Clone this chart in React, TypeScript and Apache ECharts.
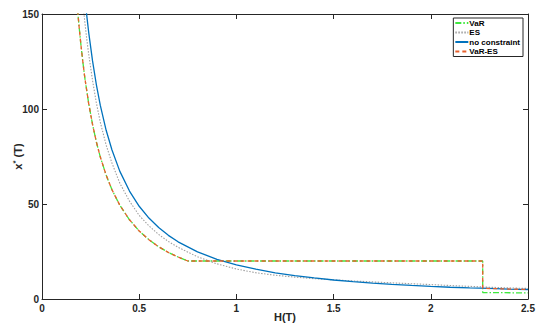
import React, { useEffect, useRef } from "react";
import * as echarts from "echarts";

// H(T) grid for the pre-threshold VaR / VaR-ES curve
const hVar = [0.16, 0.18, 0.19, 0.2, 0.21, 0.22, 0.24, 0.26, 0.28, 0.3, 0.33, 0.36, 0.4, 0.45, 0.5, 0.55, 0.6, 0.65, 0.7, 0.75, 2.267];
const yVar = [184.8, 155.8, 144.2, 134.0, 124.9, 116.6, 103.0, 91.9, 82.5, 74.7, 65.2, 57.5, 49.4, 41.7, 35.8, 31.2, 27.5, 24.5, 22.1, 20, 20];
// tails after the drop at H = 2.267
const hTail = [2.267, 2.5];
const yVarTail = [3.4, 3.2];
const yVarEsTail = [5.6, 5.0];

// H(T) grid for the smooth curves
const hCurve = [0.2, 0.21, 0.22, 0.23, 0.24, 0.26, 0.28, 0.3, 0.33, 0.36, 0.4, 0.45, 0.5, 0.55, 0.6, 0.65, 0.7, 0.8, 0.9, 1.0, 1.1, 1.2, 1.3, 1.4, 1.5, 1.6, 1.7, 1.8, 1.9, 2.0, 2.1, 2.2, 2.3, 2.4, 2.5];
const yNoConstraint = [182.7, 170.3, 159.3, 149.4, 140.5, 125.3, 112.6, 101.9, 88.8, 78.4, 67.3, 56.8, 48.8, 42.6, 37.6, 33.5, 30.1, 24.8, 20.9, 18.0, 15.7, 13.8, 12.3, 11.1, 10.0, 9.15, 8.38, 7.72, 7.14, 6.63, 6.18, 5.85, 5.55, 5.25, 5.0];
const yEs = [165, 156, 146, 137, 129, 115, 103, 93, 81, 71.5, 61, 51.5, 44, 38.5, 34, 30.3, 27.2, 22.2, 18.5, 15.8, 13.8, 12.5, 11.5, 10.7, 10.1, 9.5, 9.0, 8.5, 8.05, 7.6, 7.1, 6.65, 6.2, 5.85, 5.55];

const seriesNames = ["VaR", "ES", "no constraint", "VaR-ES"];
const xTicks = { min: 0, max: 2.5, interval: 0.5 };
const yTicks = { min: 0, max: 150, interval: 50 };

const FONT = "Liberation Sans, Arial, sans-serif";
const AX = "#262626";

function zip(xs: number[], ys: number[]) {
  return xs.map((x, i) => [x, ys[i]]);
}

export default function App() {
  const ref = useRef<HTMLDivElement>(null);
  useEffect(() => {
    if (!ref.current) return;
    const chart = echarts.init(ref.current, undefined, { renderer: "svg" });
    const varData = zip(hVar, yVar).concat(zip(hTail, yVarTail));
    const varEsData = zip(hVar, yVar).concat(zip(hTail, yVarEsTail));
    const axisCommon = {
      axisLine: { show: true, onZero: false, lineStyle: { color: AX, width: 1 } },
      axisTick: { show: true, inside: true, length: 5, lineStyle: { color: AX } },
      splitLine: { show: false },
    };
    chart.setOption({
      animation: false,
      backgroundColor: "#fff",
      grid: { left: 42, right: 13, top: 14, bottom: 31, containLabel: false, outerBoundsMode: "none" },
      legend: {
        data: seriesNames,
        orient: "vertical",
        right: 18,
        top: 18,
        padding: [1, 3, 1, 1],
        itemGap: 1.5,
        itemWidth: 13,
        itemHeight: 8,
        borderColor: AX,
        borderWidth: 1,
        backgroundColor: "#fff",
        itemStyle: { opacity: 0 },
        textStyle: { fontFamily: FONT, fontSize: 8, fontWeight: "bold", color: "#000", padding: [0, 0, 0, -4] },
      },
      xAxis: [
        {
          type: "value", ...xTicks, position: "bottom", ...axisCommon,
          axisLabel: { fontFamily: FONT, fontSize: 10, fontWeight: "bold", color: AX, margin: 4 },
          name: "H(T)", nameLocation: "middle", nameGap: 12, nameMoveOverlap: false,
          nameTextStyle: { fontFamily: FONT, fontSize: 11, fontWeight: "bold", color: AX },
        },
        { type: "value", ...xTicks, position: "top", ...axisCommon, axisLabel: { show: false } },
      ],
      yAxis: [
        {
          type: "value", ...yTicks, position: "left", ...axisCommon,
          axisLabel: { fontFamily: FONT, fontSize: 10, fontWeight: "bold", color: AX, margin: 3 },
          name: "x{s|*} (T)", nameLocation: "middle", nameGap: 17, nameRotate: 90, nameMoveOverlap: false,
          nameTextStyle: {
            fontFamily: FONT, fontSize: 11, fontWeight: "bold", color: AX,
            rich: { s: { fontFamily: FONT, fontSize: 8, fontWeight: "bold", color: AX, verticalAlign: "top", padding: [0, 0, 6, 0] } },
          },
        },
        { type: "value", ...yTicks, position: "right", ...axisCommon, axisLabel: { show: false } },
      ],
      series: [
        {
          name: "VaR", type: "line", data: varData, symbol: "none", clip: true,
          lineStyle: { color: "#3ee83e", width: 1.3, type: [6, 2, 1.5, 2] },
          itemStyle: { color: "#3ee83e" },
        },
        {
          name: "ES", type: "line", data: zip(hCurve, yEs), symbol: "none", clip: true,
          lineStyle: { color: "#a0a0a0", width: 1.1, type: [1.5, 1.5] },
          itemStyle: { color: "#a0a0a0" },
        },
        {
          name: "no constraint", type: "line", data: zip(hCurve, yNoConstraint), symbol: "none", clip: true,
          lineStyle: { color: "#0072BD", width: 1.3, type: "solid" },
          itemStyle: { color: "#0072BD" },
        },
        {
          name: "VaR-ES", type: "line", data: varEsData, symbol: "none", clip: true,
          lineStyle: { color: "#E8602C", width: 1.3, type: [4, 3] },
          itemStyle: { color: "#E8602C" },
        },
      ],
    });
    return () => chart.dispose();
  }, []);
  return <div ref={ref} style={{ position: "fixed", left: 0, top: 0, width: 541, height: 330 }} />;
}
